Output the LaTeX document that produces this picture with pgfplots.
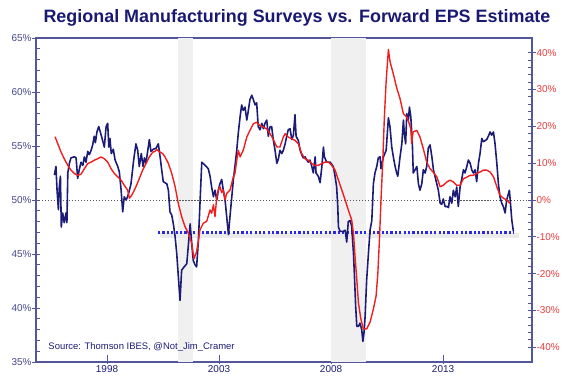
\documentclass[border=0pt]{standalone}
\usepackage{fontspec}
\setmainfont{Liberation Sans}
\usepackage{pgfplots}
\pgfplotsset{compat=1.18}
\definecolor{navy}{RGB}{28,28,120}
\definecolor{axiscol}{RGB}{85,85,155}
\definecolor{redl}{RGB}{240,30,30}
\definecolor{redlab}{RGB}{232,60,60}
\definecolor{titlecol}{RGB}{25,25,115}
\definecolor{dotblue}{RGB}{40,40,230}
\definecolor{labcol}{RGB}{70,70,140}
\begin{document}
\begin{tikzpicture}
\begin{axis}[
  width=496bp, height=324bp, scale only axis,
  xmin=1994.83, xmax=2016.97, ymin=35, ymax=65,
  xtick={1998,2003,2008,2013},
  ytick={35,40,...,65}, minor y tick num=4,
  xtick pos=left, ytick pos=left,
  tick align=inside,
  major tick length=8bp, minor tick length=4bp,
  major y tick style={xshift=-4bp},
  major x tick style={yshift=-1.5bp},
  axis line style={axiscol, line width=1.1pt},
  every tick/.style={axiscol, line width=0.9pt},
  /pgf/number format/1000 sep={},
  /pgf/number format/assume math mode=true,
  yticklabel={\pgfmathprintnumber{\tick}\%},
  yticklabel style={font=\fontsize{10}{12}\selectfont, text=labcol, xshift=-1bp},
  xticklabel style={font=\fontsize{10}{12}\selectfont, text=navy},
  clip=true,
]
% recession shading
\addplot[draw=none, fill=black!6] coordinates {(2001.17,65) (2001.84,65)} \closedcycle;
\addplot[draw=none, fill=black!6] coordinates {(2007.98,65) (2009.55,65)} \closedcycle;
% reference lines
\addplot[black!65, line width=0.9pt, dash pattern=on 1.2pt off 1.8pt] coordinates {(1994.83,50) (2016.97,50)};
\addplot[black!8, line width=5bp] coordinates {(2000.35,46.68) (2016.4,46.68)};
\addplot[dotblue, line width=2.4pt, dash pattern=on 2.2pt off 2.2pt] coordinates {(2000.28,47) (2016.14,47)};
% blue: regional manufacturing surveys
\addplot[navy, line width=1.6pt, line join=round] coordinates {
(1995.65,52.3) (1995.72,53.1) (1995.77,50.9) (1995.83,49.1) (1995.87,51.2) (1995.92,52.2)
(1995.96,47.5) (1996.02,48.8) (1996.09,47.9) (1996.17,48.8) (1996.21,47.9) (1996.25,52.5)
(1996.32,53.4) (1996.39,53.9) (1996.54,54.0) (1996.62,53.9) (1996.69,52.0) (1996.76,52.8)
(1996.84,53.5) (1996.92,53.2) (1996.99,54.0) (1997.06,53.5) (1997.14,54.5) (1997.21,54.2)
(1997.29,54.6) (1997.36,55.1) (1997.43,55.9) (1997.48,55.3) (1997.55,56.3) (1997.63,56.8)
(1997.70,56.3) (1997.78,55.7) (1997.88,54.9) (1997.96,56.8) (1998.03,57.1) (1998.08,54.9)
(1998.13,55.7) (1998.19,54.3) (1998.28,54.7) (1998.36,53.7) (1998.48,53.1) (1998.55,52.6)
(1998.63,50.9) (1998.70,48.9) (1998.77,50.3) (1998.85,50.0) (1998.92,50.3) (1999.00,50.9)
(1999.07,51.5) (1999.19,53.7) (1999.29,55.2) (1999.37,54.6) (1999.44,53.1) (1999.53,54.3)
(1999.61,53.1) (1999.67,53.9) (1999.74,53.4) (1999.82,54.6) (1999.89,55.6) (1999.96,54.5)
(2000.07,54.7) (2000.19,54.8) (2000.29,55.2) (2000.37,54.0) (2000.44,52.8) (2000.51,51.7)
(2000.67,51.5) (2000.74,50.9) (2000.81,48.9) (2000.89,48.6) (2000.96,47.8) (2001.04,46.6)
(2001.11,45.1) (2001.18,43.0) (2001.26,40.7) (2001.33,43.5) (2001.44,43.8) (2001.56,44.1)
(2001.63,45.8) (2001.71,47.8) (2001.78,46.0) (2001.85,44.4) (2001.93,44.0) (2002.00,43.8)
(2002.08,46.3) (2002.15,49.7) (2002.23,53.5) (2002.38,53.2) (2002.52,52.9) (2002.60,52.2)
(2002.67,51.2) (2002.75,50.3) (2002.82,50.9) (2002.90,50.0) (2002.97,50.9) (2003.04,51.5)
(2003.12,51.9) (2003.19,50.9) (2003.27,50.0) (2003.34,48.5) (2003.42,46.8) (2003.49,48.5)
(2003.57,50.3) (2003.64,51.9) (2003.71,53.1) (2003.79,54.6) (2003.86,56.2) (2003.94,57.7)
(2004.01,58.8) (2004.08,58.3) (2004.16,58.6) (2004.24,57.4) (2004.31,58.3) (2004.38,59.3)
(2004.46,59.7) (2004.53,59.3) (2004.61,58.8) (2004.68,59.0) (2004.75,56.8) (2004.83,56.5)
(2004.91,57.1) (2004.98,56.6) (2005.05,57.1) (2005.13,57.4) (2005.20,55.9) (2005.28,56.8)
(2005.35,56.8) (2005.42,55.6) (2005.50,54.6) (2005.58,53.4) (2005.65,53.8) (2005.72,54.6)
(2005.80,54.3) (2005.87,54.6) (2005.95,55.2) (2006.02,55.9) (2006.09,56.5) (2006.17,56.6)
(2006.25,55.6) (2006.32,56.0) (2006.39,57.9) (2006.44,55.9) (2006.54,55.5) (2006.62,54.6)
(2006.69,54.2) (2006.76,53.9) (2006.84,54.0) (2006.92,53.7) (2006.99,53.5) (2007.06,53.7)
(2007.14,53.1) (2007.21,52.5) (2007.29,54.0) (2007.33,52.5) (2007.43,52.2) (2007.51,51.6)
(2007.59,53.1) (2007.66,54.9) (2007.70,54.0) (2007.81,53.5) (2007.96,53.5) (2008.10,53.1)
(2008.18,52.2) (2008.25,51.2) (2008.30,49.4) (2008.33,47.5) (2008.40,47.1) (2008.55,47.1)
(2008.63,47.2) (2008.70,46.1) (2008.77,48.0) (2008.85,48.1) (2008.92,47.6) (2009.00,45.1)
(2009.04,43.2) (2009.10,40.1) (2009.15,38.3) (2009.22,38.3) (2009.29,38.6) (2009.37,38.0)
(2009.42,36.9) (2009.47,37.7) (2009.52,39.2) (2009.59,42.6) (2009.67,45.1) (2009.74,47.2)
(2009.82,48.1) (2009.89,51.5) (2009.96,52.5) (2010.04,53.1) (2010.11,53.9) (2010.19,54.0)
(2010.23,52.9) (2010.34,54.0) (2010.46,54.6) (2010.56,57.6) (2010.63,56.8) (2010.71,54.9)
(2010.78,54.0) (2010.86,53.1) (2010.93,52.5) (2010.98,52.2) (2011.08,54.0) (2011.16,55.2)
(2011.23,57.4) (2011.27,56.2) (2011.33,55.2) (2011.38,58.0) (2011.45,57.4) (2011.50,58.6)
(2011.56,57.7) (2011.63,55.2) (2011.67,52.5) (2011.75,52.8) (2011.83,53.1) (2011.90,51.5)
(2011.97,50.9) (2012.05,51.5) (2012.12,52.8) (2012.20,52.5) (2012.27,53.1) (2012.34,54.8)
(2012.42,55.1) (2012.50,54.0) (2012.57,52.8) (2012.64,52.2) (2012.72,51.5) (2012.79,50.9)
(2012.87,49.7) (2012.94,49.6) (2013.01,50.1) (2013.09,49.4) (2013.17,49.4) (2013.24,49.3)
(2013.31,50.3) (2013.39,49.7) (2013.46,50.9) (2013.54,50.3) (2013.61,51.2) (2013.68,49.4)
(2013.76,51.2) (2013.84,52.0) (2013.91,52.8) (2013.98,52.5) (2014.06,53.1) (2014.13,53.7)
(2014.21,53.4) (2014.28,52.8) (2014.35,52.5) (2014.43,52.8) (2014.50,51.7) (2014.58,53.4)
(2014.65,54.3) (2014.73,55.7) (2014.80,55.4) (2014.95,55.6) (2015.02,55.9) (2015.10,56.3)
(2015.17,56.0) (2015.25,56.3) (2015.32,55.2) (2015.40,53.4) (2015.47,51.5) (2015.54,50.3)
(2015.62,49.7) (2015.69,49.4) (2015.77,48.8) (2015.84,50.0) (2015.92,50.6) (2015.96,50.9)
(2016.02,49.4) (2016.07,48.1) (2016.14,47.1)
};
\node[anchor=west, text=navy, font=\fontsize{9.5}{11}\selectfont] at (rel axis cs:0.018,0.046) {Source: Thomson IBES, @Not\_Jim\_Cramer};
\end{axis}
\begin{axis}[
  width=496bp, height=324bp, scale only axis,
  xmin=1994.83, xmax=2016.97, ymin=-44, ymax=44,
  axis x line=none, axis y line*=right,
  ytick={-40,-30,...,40}, minor y tick num=4,
  tick align=inside,
  major tick length=8bp, minor tick length=4bp,
  major y tick style={xshift=4bp},
  axis line style={axiscol, line width=1.1pt},
  every tick/.style={axiscol, line width=0.9pt},
  /pgf/number format/assume math mode=true,
  yticklabel={\pgfmathprintnumber{\tick}\%},
  yticklabel style={font=\fontsize{10}{12}\selectfont, text=redlab, xshift=1bp},
]
\addplot[redl, line width=1.4pt, line join=round] coordinates {
(1995.68,17.2) (1995.80,15.3) (1995.95,13.0) (1996.09,11.2) (1996.25,9.4) (1996.39,8.1)
(1996.54,7.2) (1996.69,6.7) (1996.84,7.0) (1996.99,8.5) (1997.14,9.9) (1997.29,10.3)
(1997.43,10.8) (1997.58,11.2) (1997.73,11.7) (1997.88,11.2) (1998.03,10.3) (1998.18,8.5)
(1998.33,7.2) (1998.48,6.3) (1998.63,5.4) (1998.77,4.0) (1998.92,2.7) (1999.00,0.5)
(1999.07,1.0) (1999.15,1.8) (1999.29,3.6) (1999.44,5.8) (1999.59,8.1) (1999.74,9.9)
(1999.89,11.7) (2000.04,13.0) (2000.14,13.2) (2000.22,13.7) (2000.37,13.0) (2000.49,12.6)
(2000.59,11.7) (2000.74,9.9) (2000.89,7.2) (2001.04,3.6) (2001.18,-0.9) (2001.33,-4.5)
(2001.48,-7.2) (2001.63,-9.0) (2001.78,-11.7) (2001.88,-16.0) (2002.00,-14.0) (2002.08,-11.0)
(2002.15,-8.1) (2002.30,-6.3) (2002.45,-5.8) (2002.60,-2.7) (2002.67,-3.6) (2002.75,-1.3)
(2002.82,-4.5) (2002.90,0.9) (2002.97,2.7) (2003.04,3.6) (2003.12,2.0) (2003.19,2.7)
(2003.27,0.0) (2003.34,1.8) (2003.49,2.7) (2003.64,6.3) (2003.71,7.2) (2003.79,10.8)
(2003.86,13.5) (2003.94,11.7) (2004.08,13.5) (2004.24,17.1) (2004.38,18.9) (2004.53,20.7)
(2004.68,21.1) (2004.83,20.2) (2004.98,19.8) (2005.13,19.3) (2005.28,18.0) (2005.42,16.5)
(2005.58,14.4) (2005.72,14.4) (2005.87,17.1) (2005.95,18.0) (2006.09,17.1) (2006.25,16.6)
(2006.39,16.2) (2006.54,15.3) (2006.69,12.6) (2006.84,11.2) (2006.99,10.8) (2007.14,9.9)
(2007.29,9.4) (2007.43,9.4) (2007.59,9.9) (2007.74,10.3) (2007.88,10.3) (2008.03,9.4)
(2008.18,8.1) (2008.33,5.4) (2008.48,2.7) (2008.63,0.0) (2008.77,-2.7) (2008.92,-5.4)
(2009.00,-9.0) (2009.07,-15.3) (2009.15,-21.6) (2009.22,-27.8) (2009.33,-32.3) (2009.44,-35.0)
(2009.59,-35.0) (2009.74,-33.2) (2009.89,-29.6) (2010.01,-26.1) (2010.09,-19.8) (2010.16,-10.8)
(2010.23,0.0) (2010.31,10.8) (2010.38,22.5) (2010.46,32.3) (2010.56,40.9) (2010.63,37.7)
(2010.78,34.2) (2010.93,30.5) (2011.08,27.5) (2011.23,23.4) (2011.38,22.5) (2011.45,21.5)
(2011.56,19.3) (2011.60,15.3) (2011.66,18.5) (2011.83,18.9) (2011.97,17.1) (2012.12,13.9)
(2012.27,10.3) (2012.42,8.5) (2012.57,7.5) (2012.72,6.3) (2012.87,3.6) (2013.01,4.0)
(2013.17,4.9) (2013.31,5.4) (2013.46,4.9) (2013.61,4.0) (2013.76,4.0) (2013.91,5.8)
(2014.06,6.2) (2014.21,6.7) (2014.35,6.7) (2014.50,7.2) (2014.65,7.6) (2014.80,8.1)
(2014.95,8.1) (2015.10,7.6) (2015.25,6.3) (2015.40,3.6) (2015.54,1.3) (2015.69,0.5)
(2015.84,0.0) (2015.99,-0.9)
};
\end{axis}
\node[font=\bfseries\fontsize{18}{21}\selectfont, text=titlecol] at (261bp,344bp) {Regional Manufacturing Surveys vs. Forward EPS Estimate};
\pgfresetboundingbox
\path[use as bounding box] (-36bp,-23bp) rectangle (530bp,362bp);
\end{tikzpicture}
\end{document}
